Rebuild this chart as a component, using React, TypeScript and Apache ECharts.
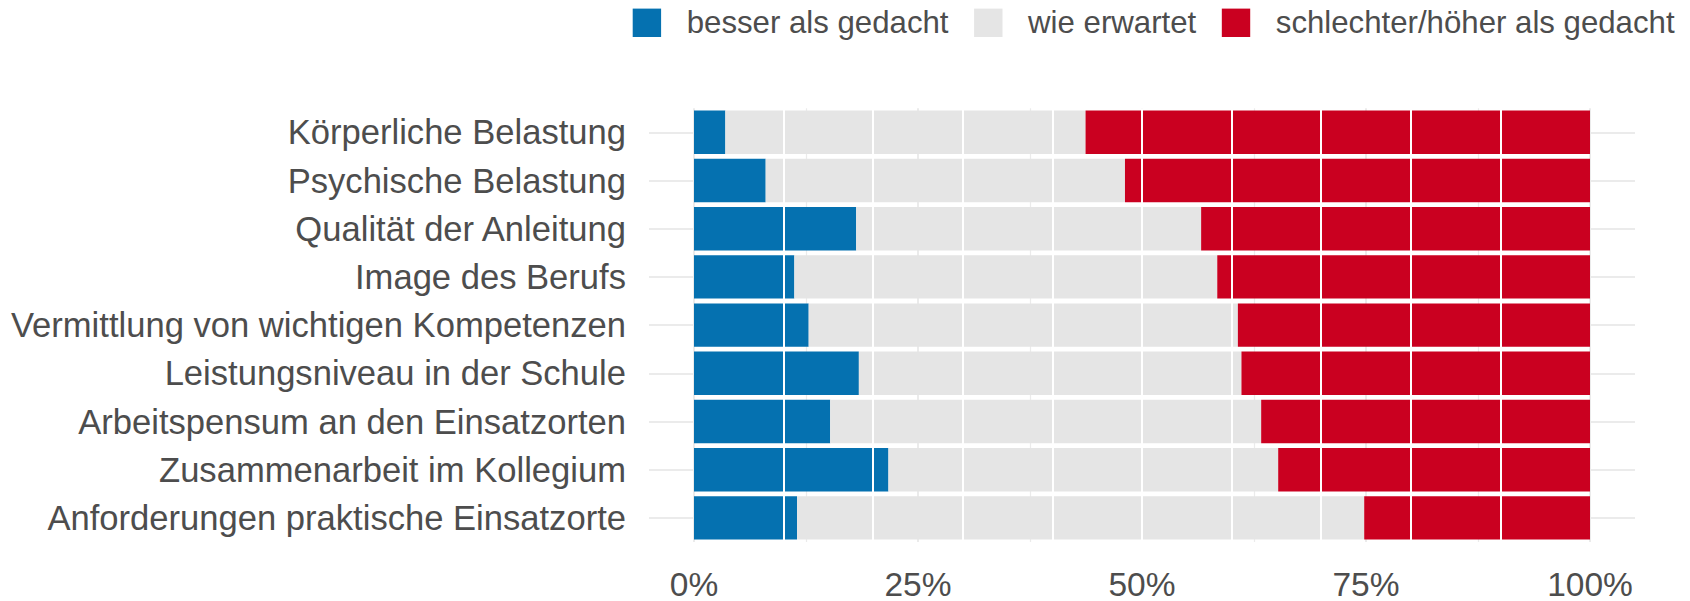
import React, { useEffect, useRef } from "react";
import * as echarts from "echarts";

const categories = [
  "Körperliche Belastung",
  "Psychische Belastung",
  "Qualität der Anleitung",
  "Image des Berufs",
  "Vermittlung von wichtigen Kompetenzen",
  "Leistungsniveau in der Schule",
  "Arbeitspensum an den Einsatzorten",
  "Zusammenarbeit im Kollegium",
  "Anforderungen praktische Einsatzorte",
];
const seriesNames = ["besser als gedacht", "wie erwartet", "schlechter/höher als gedacht"];
const besser = [3.5, 8.0, 18.1, 11.2, 12.8, 18.4, 15.2, 21.7, 11.5];
const wieErwartet = [40.2, 40.1, 38.5, 47.2, 47.9, 42.7, 48.1, 43.5, 63.3];
const schlechter = [56.3, 51.9, 43.4, 41.6, 39.3, 38.9, 36.7, 34.8, 25.2];
const whiteLines = [10, 20, 30, 40, 50, 60, 70, 80, 90];

const COLORS = ["#0571B0", "#E5E5E5", "#CA0020"];
const FONT = "Liberation Sans, Arial, sans-serif";
const TEXT = "#4D4D4D";
const GRID = "#EBEBEB";

export default function App() {
  const ref = useRef<HTMLDivElement>(null);
  useEffect(() => {
    if (!ref.current) return;
    const chart = echarts.init(ref.current, null, { renderer: "svg" });
    const tickCommon = {
      show: true,
      alignWithLabel: true,
      inside: false,
      length: 45,
      lineStyle: { color: GRID, width: 2 },
    };
    const values = [besser, wieErwartet, schlechter];
    chart.setOption({
      animation: false,
      backgroundColor: "#FFFFFF",
      textStyle: { fontFamily: FONT },
      legend: {
        data: seriesNames,
        left: 632.7,
        top: 7.3,
        padding: 0,
        icon: "rect",
        itemWidth: 28.4,
        itemHeight: 28.4,
        itemGap: 25.6,
        selectedMode: false,
        textStyle: {
          fontFamily: FONT,
          fontSize: 31.2,
          color: TEXT,
          padding: [0, 0, 0, 20.6],
        },
      },
      grid: { left: 694, right: 100, top: 108.2, bottom: 52.8, containLabel: false },
      xAxis: {
        type: "value",
        min: 0,
        max: 100,
        interval: 25,
        axisLine: { show: false },
        axisTick: { show: false },
        splitLine: { show: true, lineStyle: { color: GRID, width: 2 } },
        minorTick: { show: false, splitNumber: 2 },
        minorSplitLine: { show: true, lineStyle: { color: GRID, width: 1.2 } },
        axisLabel: {
          formatter: "{value}%",
          color: TEXT,
          fontFamily: FONT,
          fontSize: 33.5,
          margin: 25,
        },
      },
      yAxis: [
        {
          type: "category",
          data: categories,
          inverse: true,
          axisLine: { show: false },
          axisTick: tickCommon,
          splitLine: { show: false },
          axisLabel: { color: TEXT, fontFamily: FONT, fontSize: 34.6, margin: 68 },
        },
        {
          type: "category",
          data: categories,
          inverse: true,
          position: "right",
          axisLine: { show: false },
          axisTick: tickCommon,
          splitLine: { show: false },
          axisLabel: { show: false },
        },
      ],
      series: seriesNames.map((name, i) => ({
        name,
        type: "bar",
        stack: "total",
        barWidth: "90%",
        yAxisIndex: 0,
        itemStyle: { color: COLORS[i] },
        data: values[i],
        z: 2,
        markLine:
          i === 2
            ? {
                silent: true,
                symbol: "none",
                z: 10,
                label: { show: false },
                lineStyle: { color: "#FFFFFF", width: 2, type: "solid" },
                data: whiteLines.map((v) => ({ xAxis: v })),
              }
            : undefined,
      })),
    });
    return () => chart.dispose();
  }, []);
  return (
    <div
      ref={ref}
      style={{ position: "absolute", left: 0, top: 0, width: 1690, height: 601 }}
    />
  );
}
